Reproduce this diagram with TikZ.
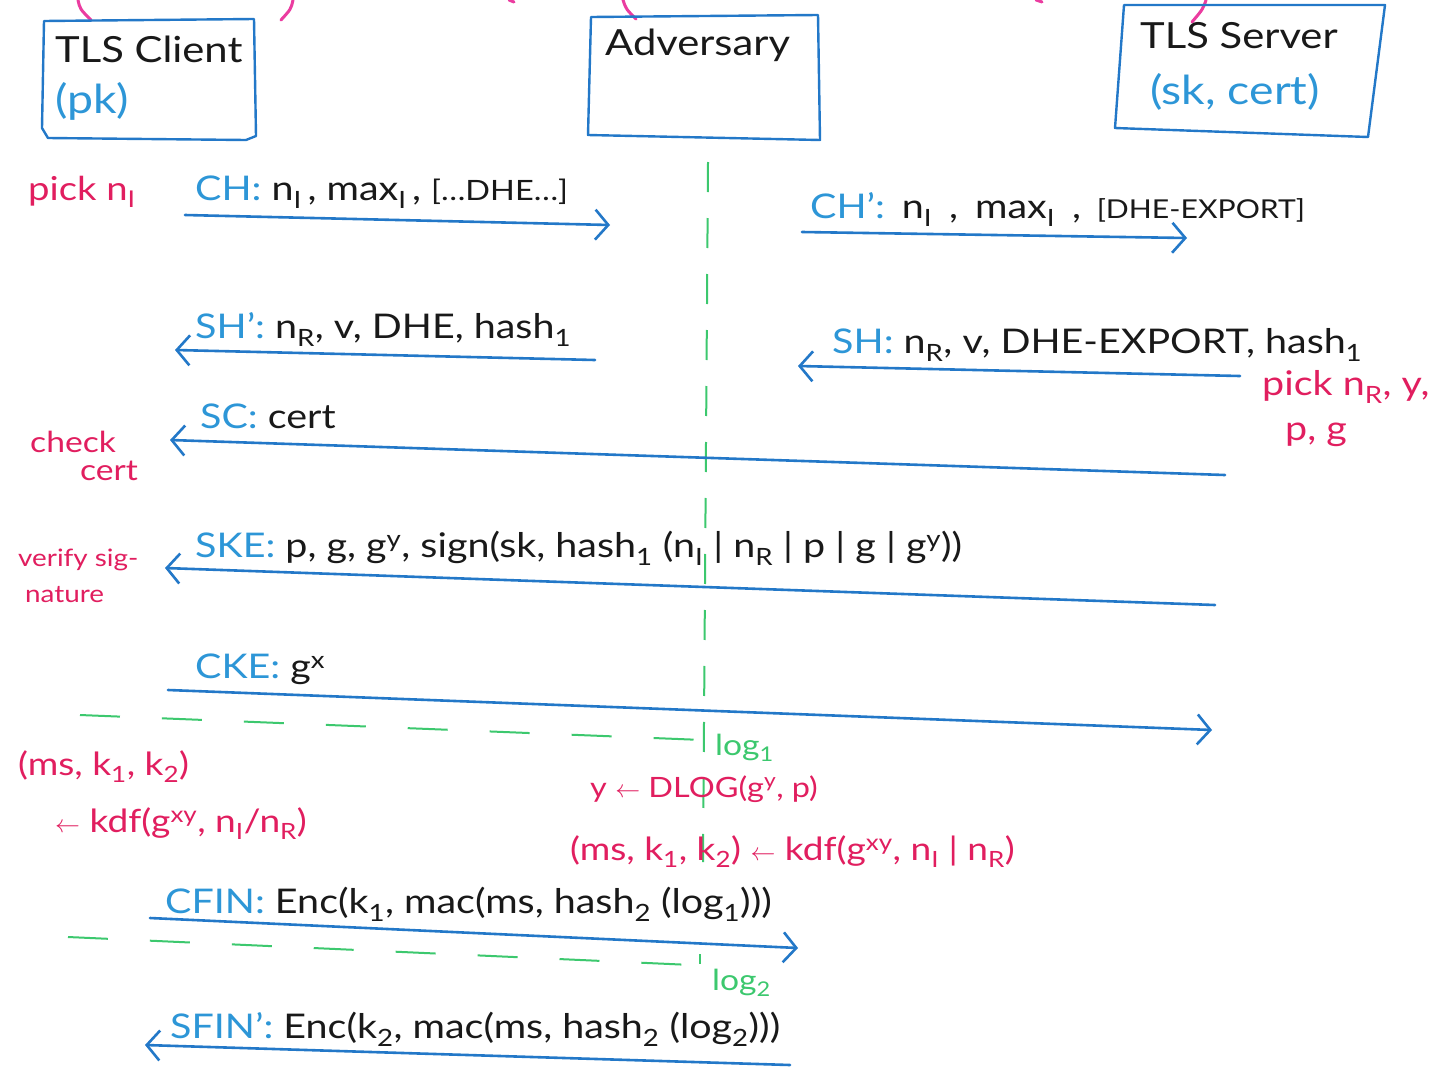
\documentclass[tikz,border=0pt]{standalone}
\usepackage{fontspec}
\setmainfont{Lato}[FakeStretch=1.16]
\usetikzlibrary{arrows.meta}
\definecolor{lineblue}{RGB}{35,120,200}
\definecolor{labcyan}{RGB}{45,150,215}
\definecolor{hpink}{RGB}{225,30,95}
\definecolor{hgreen}{RGB}{60,200,110}
\definecolor{ink}{RGB}{25,25,25}
\definecolor{arcpink}{RGB}{235,60,160}
\newcommand\lowt[1]{\textsubscript{#1}}
\newcommand\upt[1]{\textsuperscript{#1}}
\newcommand\cy[1]{\textcolor{labcyan}{#1}}
\newcommand\fs[1]{\fontsize{#1}{#1}\selectfont}
\begin{document}
\begin{tikzpicture}[x=1pt,y=-1pt,
  box/.style={draw=lineblue, line width=2.4pt, line join=round},
  msg/.style={draw=lineblue, line width=2.6pt, line cap=round,
    -{Straight Barb[length=13pt,width=30pt,line width=2.6pt]}},
  lab/.style={anchor=base west, inner sep=0pt, font=\fs{34}, text=ink},
  note/.style={anchor=base west, inner sep=0pt, font=\fs{32}, text=hpink},
  glab/.style={anchor=base west, inner sep=0pt, font=\fs{29}, text=hgreen},
  title/.style={anchor=base west, inner sep=0pt, font=\fs{36}, text=ink},
  keys/.style={anchor=base west, inner sep=0pt, font=\fs{40}, text=labcyan},
  vline/.style={draw=hgreen, line width=2pt, dash pattern=on 30pt off 26pt},
  hline/.style={draw=hgreen, line width=2pt, dash pattern=on 40pt off 42pt},
  arcs/.style={draw=arcpink, line width=3pt, line cap=round}]
\useasboundingbox (0,0) rectangle (1431,1071);
\fill[white] (0,0) rectangle (1431,1071);

% cropped pink strokes at the top edge
\draw[arcs] (78,0) .. controls (80,9) .. (91,20);
\draw[arcs] (293,0) .. controls (291,9) .. (281,20);
\draw[arcs] (509,0) -- (514,2);
\draw[arcs] (623,0) .. controls (626,9) .. (636,19);
\draw[arcs] (1036,0) -- (1042,2);
\draw[arcs] (1206,0) .. controls (1203,9) .. (1192,22);

% participant boxes
\draw[box] (44,21) -- (254,19) -- (256,136) -- (246,140) -- (48,138) -- (42,128) -- cycle;
\draw[box] (591,17) -- (818,15) -- (820,140) -- (588,135) -- cycle;
\draw[box] (1124,5) -- (1385,5) -- (1368,137) -- (1115,128) -- cycle;
\node[title] (cli) at (55,62) {TLS Client};
\node[keys] (pk) at (55,113) {(pk)};
\node[title] (adv) at (605,55) {Adversary};
\node[title] (srv) at (1140,48) {TLS Server};
\node[keys] (sk) at (1150,104) {(sk, cert)};

% adversary lifeline
\coordinate (lt) at (708,162);
\coordinate (lb) at (703,862);
\draw[vline] (lt) -- (lb);

% CH
\node[note, font=\fs{33}] (pickI) at (28,200) {pick n\lowt{I}};
\node[lab] (ch) at (195,200) {\cy{CH:} n\lowt{I}\,, max\lowt{I}\,, {\fs{28}[\dots DHE\dots]}};
\coordinate (ch1) at (185,215); \coordinate (ch2) at (610,225);
\draw[msg] (ch1) -- (ch2);

% CH'
\node[lab] (chp) at (810,218) {\cy{CH':}\enspace n\lowt{I}\enspace,\enspace max\lowt{I}\enspace,\, {\fs{26}[DHE-EXPORT]}};
\coordinate (chp1) at (802,232); \coordinate (chp2) at (1187,238);
\draw[msg] (chp1) -- (chp2);

% SH'
\node[lab] (shp) at (195,338) {\cy{SH':} n\lowt{R}, v, DHE, hash\lowt{1}};
\coordinate (shp1) at (595,360); \coordinate (shp2) at (175,350);
\draw[msg] (shp1) -- (shp2);

% SH
\node[lab] (sh) at (832,353) {\cy{SH:} n\lowt{R}, v, DHE-EXPORT, hash\lowt{1}};
\coordinate (sh1) at (1240,376); \coordinate (sh2) at (798,366);
\draw[msg] (sh1) -- (sh2);
\node[note, font=\fs{34}] (pickR) at (1262,395) {pick n\lowt{R}, y,};
\node[note, font=\fs{34}] (pg) at (1285,440) {p, g};

% SC
\node[lab] (sc) at (200,428) {\cy{SC:} cert};
\coordinate (sc1) at (1225,475); \coordinate (sc2) at (170,440);
\draw[msg] (sc1) -- (sc2);
\node[note, font=\fs{29}] (chk) at (30,452) {check};
\node[note, font=\fs{29}] (chk2) at (80,480) {cert};

% SKE
\node[lab] (ske) at (195,557) {\cy{SKE:} p, g, g\upt{y}, sign(sk, hash\lowt{1} (n\lowt{I} | n\lowt{R} | p | g | g\upt{y}))};
\coordinate (ske1) at (1215,605); \coordinate (ske2) at (165,568);
\draw[msg] (ske1) -- (ske2);
\node[note, font=\fs{24}] (ver) at (18,566) {verify sig-};
\node[note, font=\fs{24}] (ver2) at (25,602) {nature};

% CKE
\node[lab] (cke) at (195,678) {\cy{CKE:} g\upt{x}};
\coordinate (cke1) at (168,690); \coordinate (cke2) at (1212,730);
\draw[msg] (cke1) -- (cke2);

% log1
\coordinate (l1a) at (80,715); \coordinate (l1b) at (703,740);
\draw[hline] (l1a) -- (l1b);
\node[glab] (log1) at (715,755) {log\lowt{1}};

% key derivations
\node[note] (msk) at (18,775) {(ms, k\lowt{1}, k\lowt{2})};
\node[note] (kdf) at (55,832) {$\leftarrow$ kdf(g\upt{xy}, n\lowt{I}/n\lowt{R})};
\node[note, font=\fs{28}] (dlog) at (590,797) {y $\leftarrow$ DLOG(g\upt{y}, p)};
\node[note] (kdf2) at (570,860) {(ms, k\lowt{1}, k\lowt{2}) $\leftarrow$ kdf(g\upt{xy}, n\lowt{I} | n\lowt{R})};

% CFIN
\node[lab] (cfin) at (165,913) {\cy{CFIN:} Enc(k\lowt{1}, mac(ms, hash\lowt{2} (log\lowt{1})))};
\coordinate (cf1) at (150,918); \coordinate (cf2) at (798,948);
\draw[msg] (cf1) -- (cf2);

% log2
\coordinate (l2a) at (68,937); \coordinate (l2b) at (692,965);
\draw[hline] (l2a) -- (l2b);
\coordinate (t2a) at (700,954); \coordinate (t2b) at (700,964);
\draw[draw=hgreen, line width=2pt] (t2a) -- (t2b);
\node[glab] (log2) at (712,990) {log\lowt{2}};

% SFIN'
\node[lab] (sfin) at (170,1038) {\cy{SFIN':} Enc(k\lowt{2}, mac(ms, hash\lowt{2} (log\lowt{2})))};
\coordinate (sf1) at (790,1065); \coordinate (sf2) at (145,1045);
\draw[msg] (sf1) -- (sf2);
\end{tikzpicture}
\end{document}
